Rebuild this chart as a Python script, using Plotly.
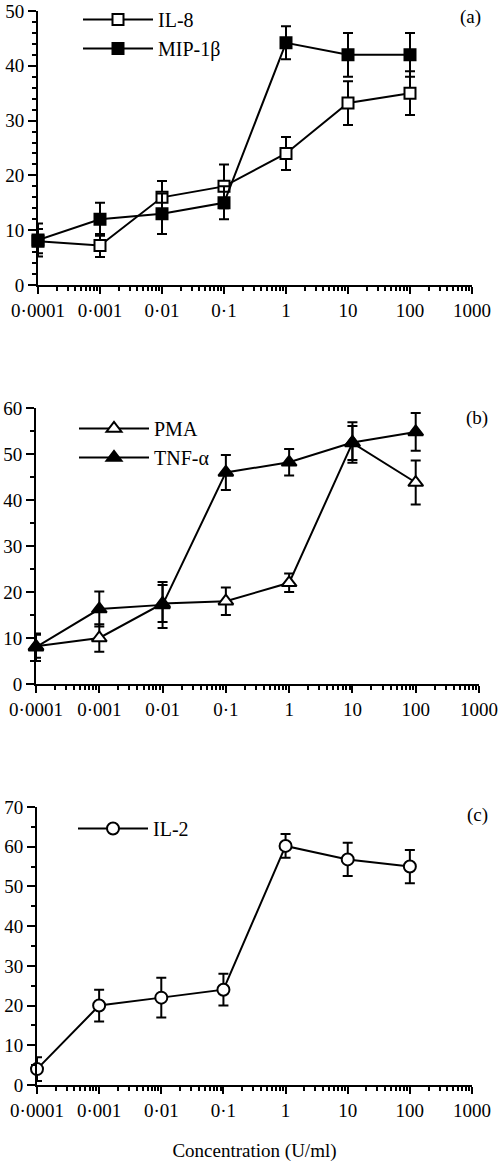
import plotly.graph_objects as go

W, H = 499, 1162

conc = [1e-4, 1e-3, 1e-2, 1e-1, 1, 10, 100]
tick_vals = [1e-4, 1e-3, 1e-2, 1e-1, 1, 10, 100, 1000]
tick_text = ["0·0001", "0·001", "0·01", "0·1", "1", "10", "100", "1000"]

il8 = [8.0, 7.2, 16.0, 18.0, 24.0, 33.2, 35.0]
il8_err = [2.2, 2.1, 3.0, 4.0, 3.0, 4.0, 4.0]
mip = [8.2, 12.0, 13.0, 15.0, 44.2, 42.0, 42.0]
mip_err = [3.0, 3.0, 3.7, 3.0, 3.0, 4.0, 4.0]

pma = [8.2, 10.0, 17.5, 18.0, 22.0, 52.4, 43.8]
pma_err = [2.5, 3.0, 4.0, 3.0, 2.0, 3.7, 4.8]
tnf = [8.0, 16.3, 17.2, 46.0, 48.2, 52.5, 54.8]
tnf_err = [3.0, 3.8, 5.0, 3.8, 2.9, 4.4, 4.1]

il2 = [4.0, 20.0, 22.0, 24.0, 60.2, 56.8, 55.0]
il2_err = [3.0, 4.0, 5.0, 4.0, 3.0, 4.2, 4.2]

FONT = "Liberation Serif"
FS = 19

fig = go.Figure()


def add(name, y, err, symbol, fill, xa, ya, leg, size=11):
    fig.add_trace(go.Scatter(
        x=conc, y=y, name=name, mode="lines+markers",
        xaxis=xa, yaxis=ya, legend=leg, legendgroup=name, cliponaxis=False,
        line=dict(color="black", width=2),
        marker=dict(symbol=symbol, size=size, color=fill,
                    line=dict(color="black", width=2)),
        error_y=dict(type="data", array=err, visible=True,
                     color="black", thickness=2, width=5),
    ))


add("IL-8", il8, il8_err, "square", "white", "x", "y", "legend")
add("MIP-1β", mip, mip_err, "square", "black", "x", "y", "legend")
add("PMA", pma, pma_err, "triangle-up", "white", "x2", "y2", "legend2", 13)
add("TNF-α", tnf, tnf_err, "triangle-up", "black", "x2", "y2", "legend2", 13)
add("IL-2", il2, il2_err, "circle", "white", "x3", "y3", "legend3", 12)


def xdom(l, r):
    return [l / W, r / W]


def ydom(bottom, top):
    return [1 - bottom / H, 1 - top / H]


xcommon = dict(type="log", range=[-4, 3], tickmode="array", tickvals=tick_vals,
               ticktext=tick_text, showline=True, linecolor="black", linewidth=2,
               ticks="outside", ticklen=7, tickwidth=2, tickcolor="black",
               showgrid=False, zeroline=False, automargin=False,
               ticklabeloverflow="allow",
               tickfont=dict(family=FONT, size=FS, color="black"),
               minor=dict(ticks="outside", ticklen=4, tickwidth=2,
                          tickcolor="black", dtick="D1", showgrid=False))

ycommon = dict(showline=True, linecolor="black", linewidth=2,
               ticks="outside", ticklen=8, tickwidth=2, tickcolor="black",
               showgrid=False, zeroline=False, dtick=10, automargin=False,
               ticklabeloverflow="allow",
               tickfont=dict(family=FONT, size=FS, color="black"))

legcommon = dict(xanchor="left", yanchor="top", bgcolor="rgba(0,0,0,0)",
                 font=dict(family=FONT, size=20, color="black"),
                 tracegroupgap=0, itemwidth=70)

fig.update_layout(
    width=W, height=H,
    margin=dict(l=0, r=0, t=0, b=0, autoexpand=False),
    paper_bgcolor="white", plot_bgcolor="white",
    font=dict(family=FONT, size=FS, color="black"),
    xaxis=dict(domain=xdom(38, 472), anchor="y", **xcommon),
    yaxis=dict(domain=ydom(285, 11), anchor="x", range=[0, 50],
               minor=dict(ticks="outside", ticklen=4, tickwidth=2, dtick=2,
                          tickcolor="black", showgrid=False), **ycommon),
    xaxis2=dict(domain=xdom(36, 479), anchor="y2", **xcommon),
    yaxis2=dict(domain=ydom(684, 408), anchor="x2", range=[0, 60],
                minor=dict(ticks="outside", ticklen=4, tickwidth=2, dtick=5,
                           tickcolor="black", showgrid=False), **ycommon),
    xaxis3=dict(domain=xdom(37, 472), anchor="y3",
                title=dict(text="Concentration (U/ml)", standoff=28,
                           font=dict(family=FONT, size=FS, color="black")),
                **xcommon),
    yaxis3=dict(domain=ydom(1085, 807), anchor="x3", range=[0, 70],
                minor=dict(ticks="outside", ticklen=4, tickwidth=2, dtick=5,
                           tickcolor="black", showgrid=False), **ycommon),
    legend=dict(x=78 / W, y=1 - 0 / H, **legcommon),
    legend2=dict(x=74 / W, y=1 - 409 / H, **legcommon),
    legend3=dict(x=73 / W, y=1 - 809 / H, **legcommon),
    showlegend=True,
)

for label, xp, yp in [("(a)", 470, 17), ("(b)", 477, 418), ("(c)", 477, 815)]:
    fig.add_annotation(text=label, x=xp / W, y=1 - yp / H, xref="paper", yref="paper",
                       xanchor="center", yanchor="middle", showarrow=False,
                       font=dict(family=FONT, size=FS, color="black"))

fig.write_html(
    "out.html",
    config={"displayModeBar": False},
    post_script="document.documentElement.style.margin='0';"
                "document.body.style.margin='0';"
                "document.body.style.overflow='hidden';",
)
